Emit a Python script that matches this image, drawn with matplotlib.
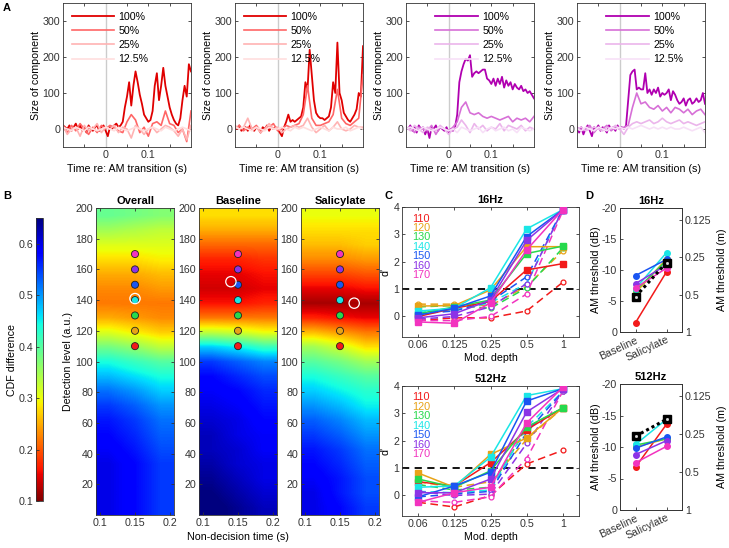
import numpy as np
import matplotlib
matplotlib.use('Agg')
import matplotlib.pyplot as plt

plt.rcParams['font.family'] = ['Liberation Sans', 'DejaVu Sans']
plt.rcParams['font.size'] = 7.7
plt.rcParams['axes.unicode_minus'] = False
plt.rcParams['axes.linewidth'] = 0.6
plt.rcParams['axes.edgecolor'] = '#333333'
plt.rcParams['xtick.color'] = '#333333'
plt.rcParams['ytick.color'] = '#333333'
plt.rcParams['xtick.major.width'] = 0.6
plt.rcParams['ytick.major.width'] = 0.6

# ---------------- data: panel A (size of component vs time) ----------------
t_fine = np.linspace(-0.1, 0.2, 61)
t_coarse = np.linspace(-0.1, 0.2, 31)
depth_labels = ['100%', '50%', '25%', '12.5%']

red1_100 = [10, 5, 0, 10, -5, 5, 15, 0, 10, -5,
            5, -10, 10, 0, -5, 5, 10, -5, 5, 10,
            -5, -20, 5, 0, 10, 15, 5, 10, 20, 60,
            90, 130, 65, 120, 160, 130, 95, 70, 40, 30,
            20, 25, 50, 120, 155, 80, 120, 170, 120, 90,
            60, 40, 25, 15, 10, 30, 80, 120, 90, 180, 160]
red1_50 = [5, -10, 10, -5, 15, 0, -15, 5, -10, 10, 0, 10, 5, -5, -10, 20,
           40, 25, -10, 5, -20, 15, 20, 10, 50, 15, 10, -10, 0, -35, 50]
red1_25 = [10, -15, 0, 5, -20, 10, -5, 0, 15, -10, 5, 0, 10, -10, 5, 0,
           -25, 10, 0, -15, 0, 5, -10, 0, 10, 5, -5, -20, 0, -30, 10]
red1_12 = [5, 0, -5, 5, 0, -5, 5, 0, -5, 0, 5, 0, -5, 5, 0, -5,
           0, 5, 0, -5, 0, 5, 0, -5, 5, 0, -5, 0, 5, 0, -5]

red2_100 = [5, 0, 10, -5, 0, 5, -5, 10, 0, -5,
            5, 0, -10, 5, 0, 10, -5, 5, 0, 5,
            0, -10, -20, 5, 20, 40, 20, 25, 20, 25,
            30, 35, 60, 130, 110, 220, 150, 80, 45, 35,
            30, 30, 25, 30, 35, 60, 130, 100, 240, 100,
            80, 45, 35, 25, 20, 30, 40, 55, 100, 90, 230]
red2_50 = [0, 10, -5, 5, 0, 10, -5, 0, 5, 15, -5, 0, 10, 5, 10, 15,
           40, 120, 30, 10, 10, 15, 20, 40, 110, 30, 15, 10, 20, 30, 150]
red2_25 = [10, 0, 5, 30, 0, 5, -10, 0, 15, 0, 5, -10, 0, 5, 10, 5,
           10, 30, 5, -10, 0, 10, -5, 5, 20, 0, -5, 0, 10, 5, 5]
red2_12 = [5, 0, 5, 0, -5, 5, 0, -5, 5, 0, 0, 5, 0, -5, 5, 0,
           5, 0, -5, 0, 5, 0, -5, 5, 0, 0, 5, -5, 0, 5, 0]

pur1_100 = [5, 0, 10, -5, 5, -10, 10, 0, 5, -15,
            0, -25, 5, 0, 10, -5, 5, 0, -5, 5,
            -10, 0, -5, 5, 40, 130, 160, 180, 195, 190,
            205, 145, 155, 160, 155, 160, 165, 165, 140, 135,
            125, 140, 120, 140, 125, 145, 115, 135, 120, 130,
            110, 125, 115, 110, 120, 105, 110, 100, 105, 95, 85]
pur1_50 = [0, 5, -10, 5, 0, -5, 10, -15, 5, 0, -5, 5, 20, 60, 75, 45,
           40, 45, 35, 30, 35, 30, 25, 30, 35, 20, 30, 25, 30, 20, 35]
pur1_25 = [5, -5, 10, 0, -10, 5, 0, -5, 10, 0, -15, 0, 5, 25, 10, -10,
           15, 0, 10, -5, 5, 0, 15, -5, 10, 5, 0, 10, -5, 5, 0]
pur1_12 = [0, 5, 0, -5, 5, 0, -5, 0, 5, 0, -5, 0, -10, 5, 0, -5,
           0, 5, -10, 0, 5, -5, 0, 5, -5, 0, -10, 5, 0, -5, 0]

pur2_100 = [0, -10, 5, -15, 0, 10, -5, -20, 5, 0,
            10, -5, 5, 0, -10, 10, 0, 5, -5, 10,
            0, 5, 0, 10, 80, 150, 160, 165, 110, 115,
            110, 110, 155, 100, 110, 95, 110, 100, 115, 90,
            100, 95, 100, 110, 80, 105, 95, 80, 70, 75,
            85, 65, 80, 85, 70, 75, 85, 75, 80, 100, 70]
pur2_50 = [5, -5, 0, 10, -10, 5, 0, 10, -5, 5, 0, 5, 10, 60, 100, 70,
           75, 60, 55, 65, 50, 60, 45, 60, 55, 45, 55, 40, 50, 55, 40]
pur2_25 = [0, 5, -5, 0, 5, 0, -5, 5, 0, 10, 0, -15, 5, 15, 20, 15,
           20, 25, 15, 20, 30, 20, 15, 20, 25, 15, 20, 15, 10, 15, 20]
pur2_12 = [0, -5, 5, 0, -5, 5, 0, -5, 5, 0, 5, 0, 5, 0, 5, 10,
           5, 0, 5, 0, 5, 0, 5, 0, 0, 5, 0, -5, 0, 5, -10]

red_shades = ['#e00000', '#ff6666', '#ffb3b3', '#ffdede']
pur_shades = ['#b000b0', '#d770d7', '#ebb5eb', '#f7e0f7']

# ---------------- data: panel B (CDF difference maps) ----------------
overall_map = [[0.60, 0.58, 0.55], [0.60, 0.58, 0.55], [0.60, 0.58, 0.55],
               [0.60, 0.58, 0.55], [0.59, 0.57, 0.54], [0.58, 0.56, 0.53],
               [0.57, 0.55, 0.52], [0.55, 0.53, 0.50], [0.52, 0.50, 0.47],
               [0.48, 0.46, 0.44], [0.44, 0.42, 0.40], [0.38, 0.36, 0.33],
               [0.31, 0.29, 0.27], [0.25, 0.24, 0.23], [0.22, 0.22, 0.22],
               [0.23, 0.23, 0.24], [0.25, 0.25, 0.26], [0.28, 0.28, 0.29],
               [0.31, 0.31, 0.31], [0.35, 0.34, 0.33], [0.39, 0.38, 0.37]]
baseline_map = [[0.66, 0.64, 0.62], [0.65, 0.63, 0.61], [0.64, 0.62, 0.60],
                [0.63, 0.61, 0.60], [0.62, 0.61, 0.59], [0.62, 0.60, 0.59],
                [0.61, 0.60, 0.58], [0.60, 0.59, 0.57], [0.59, 0.58, 0.56],
                [0.58, 0.56, 0.54], [0.55, 0.53, 0.51], [0.47, 0.45, 0.42],
                [0.33, 0.32, 0.30], [0.22, 0.22, 0.22], [0.16, 0.16, 0.17],
                [0.14, 0.14, 0.15], [0.15, 0.15, 0.16], [0.17, 0.17, 0.18],
                [0.21, 0.21, 0.21], [0.25, 0.25, 0.25], [0.28, 0.28, 0.28]]
salicylate_map = [[0.60, 0.58, 0.55], [0.60, 0.57, 0.54], [0.59, 0.57, 0.54],
                  [0.58, 0.56, 0.53], [0.57, 0.55, 0.52], [0.55, 0.53, 0.50],
                  [0.53, 0.51, 0.48], [0.50, 0.48, 0.45], [0.47, 0.45, 0.43],
                  [0.44, 0.42, 0.40], [0.40, 0.38, 0.35], [0.35, 0.32, 0.28],
                  [0.26, 0.24, 0.22], [0.17, 0.16, 0.15], [0.12, 0.12, 0.12],
                  [0.15, 0.15, 0.16], [0.19, 0.19, 0.20], [0.23, 0.23, 0.24],
                  [0.26, 0.26, 0.27], [0.28, 0.28, 0.28], [0.30, 0.30, 0.30]]
map_titles = ['Overall', 'Baseline', 'Salicylate']
best_fit = [(0.15, 141), (0.14, 152), (0.17, 138)]

levels = [110, 120, 130, 140, 150, 160, 170]
level_colors = ['#f21a1a', '#e8a317', '#26d94d', '#1ae6e6',
                '#1a55f2', '#8c33e6', '#f233bf']
dot_ndt = 0.15

# ---------------- data: panel C (d' vs modulation depth) ----------------
mod_depths = ['0.06', '0.125', '0.25', '0.5', '1']
c16_solid = [[0.0, 0.3, 0.55, 1.7, 1.93],
             [0.38, 0.4, 0.97, 2.55, 2.55],
             [0.1, 0.35, 0.6, 2.3, 2.57],
             [0.2, 0.3, 1.05, 3.2, 3.9],
             [0.05, 0.3, 0.75, 2.92, 3.9],
             [-0.05, 0.1, 0.6, 2.78, 3.9],
             [-0.2, -0.25, 0.5, 2.43, 3.9]]
c16_dash = [[-0.15, -0.05, -0.05, 0.2, 1.25],
            [0.45, 0.45, 0.4, 1.1, 2.4],
            [0.35, 0.4, 0.3, 1.05, 2.5],
            [0.15, 0.25, 0.5, 1.2, 3.9],
            [0.1, 0.2, 0.55, 1.45, 3.9],
            [-0.1, 0.0, 0.35, 1.2, 3.9],
            [-0.15, -0.15, 0.0, 0.82, 3.85]]
c512_solid = [[0.5, 0.35, 1.2, 2.4, 3.2],
              [0.82, 0.3, 1.5, 2.1, 3.2],
              [0.6, 0.3, 0.9, 2.5, 3.2],
              [0.3, 0.35, 1.4, 3.65, 3.9],
              [-0.05, 0.35, 0.85, 3.45, 3.9],
              [0.1, 0.1, 0.6, 3.05, 3.9],
              [-0.25, 0.1, 0.3, 2.65, 3.95]]
c512_dash = [[-0.25, -0.42, 0.0, 1.15, 1.65],
             [0.5, 0.3, 0.5, 2.05, 3.2],
             [0.4, 0.2, 0.3, 2.45, 3.2],
             [0.15, 0.1, 0.2, 2.5, 3.8],
             [-0.05, 0.05, 0.15, 2.3, 3.8],
             [0.15, 0.0, 0.05, 1.9, 3.8],
             [-0.2, -0.25, -0.05, 1.35, 3.8]]

# ---------------- data: panel D (AM thresholds) ----------------
conditions = ['Baseline', 'Salicylate']
d16_base = [-1.5, -6.3, -6.7, -7.0, -9.1, -7.8, -7.1]
d16_sal = [-9.7, -11.8, -11.5, -12.8, -11.7, -10.8, -10.3]
d16_mean = [-5.7, -11.2]
d512_base = [-6.8, -10.0, -10.3, -10.4, -9.8, -8.8, -7.5]
d512_sal = [-13.6, -11.3, -11.3, -14.4, -11.6, -11.0, -10.1]
d512_mean = [-11.7, -14.4]
m_ticks = [0.125, 0.25, 0.5, 1]

W, H = 729, 548
fig = plt.figure(figsize=(W / 100, H / 100), dpi=100)


def box(x0, y0, x1, y1):
    # pixel box -> figure fraction
    return [x0 / W, 1 - y1 / H, (x1 - x0) / W, (y1 - y0) / H]


def ticks_in(ax):
    ax.tick_params(direction='in', length=2.5, top=True, right=True, pad=2)


# ---------------- panel A ----------------
a_traces = [(red1_100, red1_50, red1_25, red1_12, red_shades, 0.0),
            (red2_100, red2_50, red2_25, red2_12, red_shades, 0.0),
            (pur1_100, pur1_50, pur1_25, pur1_12, pur_shades, 0.16),
            (pur2_100, pur2_50, pur2_25, pur2_12, pur_shades, 0.16)]
a_left = [63, 235, 406, 577]
for (s100, s50, s25, s12, shades, lx), x0 in zip(a_traces, a_left):
    ax = fig.add_axes(box(x0, 3, x0 + 128, 147))
    ax.axvline(0, color='#cccccc', lw=1.0)
    ax.plot(t_fine, s100, color=shades[0], lw=1.3, label=depth_labels[0])
    ax.plot(t_coarse, s50, color=shades[1], lw=1.2, label=depth_labels[1])
    ax.plot(t_coarse, s25, color=shades[2], lw=1.2, label=depth_labels[2])
    ax.plot(t_coarse, s12, color=shades[3], lw=1.2, label=depth_labels[3])
    ax.set_xlim(-0.1, 0.2)
    ax.set_ylim(-50, 350)
    ax.set_xticks([-0.05, 0, 0.05, 0.1, 0.15])
    ax.set_xticklabels(['', '0', '', '0.1', ''])
    ax.set_yticks([0, 100, 200, 300])
    ticks_in(ax)
    ax.set_xlabel('Time re: AM transition (s)', labelpad=3)
    ax.set_ylabel('Size of component', labelpad=1)
    ax.legend(loc='upper left', bbox_to_anchor=(lx, 1.0), frameon=False,
              handlelength=4.0, handletextpad=0.4, labelspacing=0.4,
              borderaxespad=0.4, fontsize=7.7)

# ---------------- panel B ----------------
cmap = plt.get_cmap('jet_r')
b_left = [96, 199, 301]
maps = [overall_map, baseline_map, salicylate_map]
for i, (m, x0) in enumerate(zip(maps, b_left)):
    ax = fig.add_axes(box(x0, 208, x0 + 78, 515))
    im = ax.imshow(np.array(m), origin='lower', aspect='auto', cmap=cmap,
                   vmin=0.1, vmax=0.65, interpolation='bilinear',
                   extent=(0.095, 0.205, 0, 200))
    ax.scatter([dot_ndt] * len(levels), levels, s=26, c=level_colors,
               edgecolors='#222222', linewidths=0.6, zorder=3)
    ax.scatter([best_fit[i][0]], [best_fit[i][1]], s=55, facecolors='none',
               edgecolors='white', linewidths=0.9, zorder=4)
    ax.set_xlim(0.095, 0.205)
    ax.set_ylim(0, 200)
    ax.set_xticks([0.1, 0.15, 0.2])
    ax.set_xticklabels(['0.1', '0.15', '0.2'])
    ax.set_yticks(np.arange(20, 201, 20))
    ticks_in(ax)
    ax.set_title(map_titles[i], fontweight='bold', fontsize=8, pad=3)
    if i == 0:
        ax.set_ylabel('Detection level (a.u.)', labelpad=2)
    if i == 1:
        ax.set_xlabel('Non-decision time (s)', labelpad=3)

cax = fig.add_axes(box(36, 218, 43, 501))
cb = fig.colorbar(im, cax=cax)
cb.set_ticks([0.1, 0.2, 0.3, 0.4, 0.5, 0.6])
cax.yaxis.set_ticks_position('left')
cax.yaxis.set_label_position('left')
cax.tick_params(direction='in', length=2, pad=2)
cb.outline.set_linewidth(0.6)
cb.set_label('CDF difference', labelpad=1)

# ---------------- panel C ----------------
xpos = np.arange(1, len(mod_depths) + 1)
c_sets = [(c16_solid, c16_dash, '16Hz', 207, 337),
          (c512_solid, c512_dash, '512Hz', 386, 516)]
for solid, dash, title, y0, y1 in c_sets:
    ax = fig.add_axes(box(402, y0, 579, y1))
    ax.axhline(1, color='black', lw=1.3, ls=(0, (4, 3)), zorder=1)
    for k in range(len(levels)):
        ax.plot(xpos, dash[k], color=level_colors[k], lw=1.1,
                ls=(0, (5, 3)), marker='o', ms=3.5, mfc='white',
                mec=level_colors[k], mew=0.9, zorder=2)
    for k in range(len(levels)):
        ax.plot(xpos, solid[k], color=level_colors[k], lw=1.1,
                marker='s', ms=4, mfc=level_colors[k], mec=level_colors[k],
                zorder=3)
    for k, lev in enumerate(levels):
        ax.text(0.055, 0.95 - k * 0.073, str(lev), color=level_colors[k],
                transform=ax.transAxes, ha='left', va='top', fontsize=7.8)
    ax.set_xlim(0.55, 5.45)
    ax.set_ylim(-0.75, 4)
    ax.set_xticks(xpos)
    ax.set_xticklabels(mod_depths)
    ax.set_yticks([0, 1, 2, 3, 4])
    ticks_in(ax)
    ax.set_title(title, fontweight='bold', fontsize=8, pad=3)
    ax.set_xlabel('Mod. depth', labelpad=2)
    ax.set_ylabel("d'", labelpad=2)

# ---------------- panel D ----------------
d_sets = [(d16_base, d16_sal, d16_mean, '16Hz', 208, 332),
          (d512_base, d512_sal, d512_mean, '512Hz', 384, 510)]
cpos = np.arange(1, len(conditions) + 1)
for base, sal, mean, title, y0, y1 in d_sets:
    ax = fig.add_axes(box(620, y0, 682, y1))
    for k in range(len(levels)):
        ax.plot(cpos, [base[k], sal[k]], color=level_colors[k], lw=1.1,
                marker='o', ms=4, zorder=2)
    ax.plot(cpos, mean, color='black', lw=2.2, ls=(0, (1, 1)), marker='s',
            ms=6, zorder=3)
    ax.plot(cpos, mean, ls='none', marker='s', ms=1.0, color='#dddddd',
            zorder=4)
    ax.set_xlim(0.5, 2.5)
    ax.set_ylim(0, -20)
    ax.set_yticks([0, -5, -10, -15, -20])
    ax.set_xticks(cpos)
    ax.set_xticklabels(conditions, rotation=25, ha='right',
                       rotation_mode='anchor')
    ax.tick_params(direction='in', length=2.5, pad=2)
    ax.set_title(title, fontweight='bold', fontsize=8, pad=3)
    ax.set_ylabel('AM threshold (dB)', labelpad=1)
    ax2 = ax.twinx()
    ax2.set_ylim(0, -20)
    ax2.set_yticks([20 * np.log10(m) for m in m_ticks])
    ax2.set_yticklabels([f'{m:g}' for m in m_ticks])
    ax2.tick_params(direction='in', length=2.5, pad=2)
    ax2.set_ylabel('AM threshold (m)', labelpad=4)

# ---------------- panel letters ----------------
for letter, px, py in [('A', 3, 8), ('B', 3, 196), ('C', 384, 196),
                       ('D', 585, 196)]:
    fig.text(px / W, 1 - py / H, letter, fontweight='bold', fontsize=8,
             ha='left', va='center')

fig.savefig('out.png', dpi=100)
